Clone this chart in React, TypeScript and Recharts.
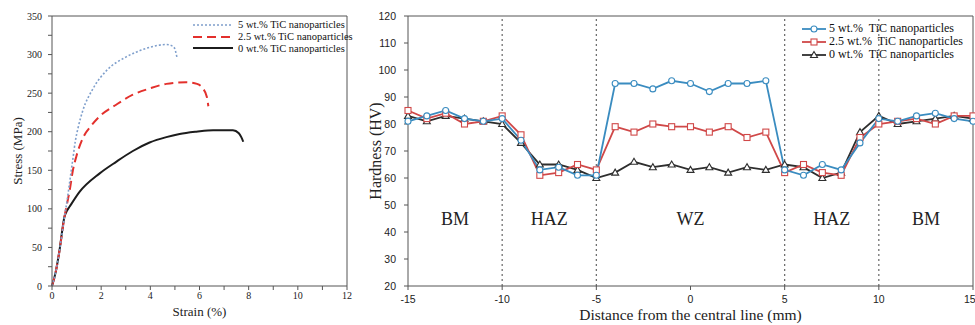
import React from "react";
import {
  LineChart, Line, XAxis, YAxis, Legend, ReferenceLine, ReferenceArea, Label
} from "recharts";

const serif = '"Liberation Serif", "Times New Roman", serif';
const narrow = '"Liberation Sans Narrow", "Liberation Sans", Arial, sans-serif';

// ---- tensile curves (left) ----
const strain5 = [0, 0.15, 0.3, 0.51, 0.62, 0.72, 0.85, 0.95, 1.06, 1.26, 1.67, 2.21, 3.02, 3.83, 4.65, 4.95, 5.08];
const stress5 = [0, 18, 45, 90, 112, 135, 165, 188, 205, 228, 256, 279, 297, 308, 313, 310, 297];

const strain25 = [0, 0.15, 0.3, 0.51, 0.62, 0.72, 0.85, 0.99, 1.26, 1.6, 1.94, 2.61, 3.29, 3.97, 4.65, 5.46, 5.9, 6.14, 6.3, 6.36];
const stress25 = [0, 18, 45, 90, 108, 124, 150, 168, 192, 208, 220, 235, 248, 256, 262, 264, 262, 256, 245, 233];

const strain0 = [0, 0.15, 0.3, 0.51, 0.6, 0.72, 1.12, 1.94, 2.61, 3.29, 3.97, 4.65, 5.19, 5.87, 6.55, 7.36, 7.6, 7.7, 7.78];
const stress0 = [0, 18, 45, 90, 97, 103, 122, 146, 161, 175, 186, 193, 197, 200, 202, 202, 198, 193, 187];

const strainTicks = [0, 1, 2, 3, 4, 5, 6, 7, 8, 9, 10, 11, 12];
const stressTicks = [0, 25, 50, 75, 100, 125, 150, 175, 200, 225, 250, 275, 300, 325, 350];

// ---- hardness profile (right) ----
const distance = [-15, -14, -13, -12, -11, -10, -9, -8, -7, -6, -5, -4, -3, -2, -1, 0, 1, 2, 3, 4, 5, 6, 7, 8, 9, 10, 11, 12, 13, 14, 15];
const hv5 = [81, 83, 85, 82, 81, 82, 74, 63, 64, 61, 61, 95, 95, 93, 96, 95, 92, 95, 95, 96, 63, 61, 65, 63, 73, 82, 81, 83, 84, 82, 81];
const hv25 = [85, 82, 84, 80, 81, 83, 76, 61, 62, 65, 63, 79, 77, 80, 79, 79, 77, 79, 75, 77, 62, 65, 62, 61, 75, 80, 81, 82, 80, 83, 83];
const hv0 = [83, 81, 83, 82, 81, 80, 73, 65, 65, 63, 60, 62, 66, 64, 65, 63, 64, 62, 64, 63, 65, 64, 60, 62, 77, 83, 80, 81, 82, 83, 82];

const distanceTicks = [-15, -10, -5, 0, 5, 10, 15];
const hardnessTicks = [20, 30, 40, 50, 60, 70, 80, 90, 100, 110, 120];
const zoneBorders = [-10, -5, 5, 10];
const zoneNames = ["BM", "HAZ", "WZ", "HAZ", "BM"];
const zoneFrom = [-15, -10, -5, 5, 10];
const zoneTo = [-10, -5, 5, 10, 15];

const seriesNames = ["5 wt.% TiC nanoparticles", "2.5 wt.% TiC nanoparticles", "0 wt.% TiC nanoparticles"];
const hardNames = ["5 wt.%  TiC nanoparticles", "2.5 wt.%  TiC nanoparticles", "0 wt.%  TiC nanoparticles"];

const toCurve = (xs: number[], ys: number[]) => xs.map((s, i) => ({ strain: s, stress: ys[i] }));
const curve5 = toCurve(strain5, stress5);
const curve25 = toCurve(strain25, stress25);
const curve0 = toCurve(strain0, stress0);

const hardness = distance.map((d, i) => ({ d, hv5: hv5[i], hv25: hv25[i], hv0: hv0[i] }));

const tensileStyle = [
  { color: "#7f9fcc", dash: "2 2", width: 1.6 },
  { color: "#e3302c", dash: "9 5", width: 2 },
  { color: "#1c1c1c", dash: undefined, width: 2 },
];
const hardColors = ["#3a8cc0", "#d04848", "#2e2e2e"];

const Square = (p: any) => {
  if (p.cx == null || p.cy == null) return null;
  return <rect x={p.cx - 3} y={p.cy - 3} width={6} height={6} fill="#fff" stroke={p.stroke} strokeWidth={1.1} />;
};
const Tri = (p: any) => {
  if (p.cx == null || p.cy == null) return null;
  const { cx, cy } = p;
  return (
    <polygon points={`${cx},${cy - 3.5} ${cx - 3.5},${cy + 2.5} ${cx + 3.5},${cy + 2.5}`}
      fill="#fff" stroke={p.stroke} strokeWidth={1.1} />
  );
};

const TensileLegend = () => (
  <div style={{ fontFamily: serif, fontSize: 10.5, color: "#111" }}>
    {seriesNames.map((n, i) => (
      <div key={n} style={{ display: "flex", alignItems: "center", height: 11.7 }}>
        <svg width={40} height={6}>
          <line x1={0} y1={3} x2={40} y2={3} stroke={tensileStyle[i].color}
            strokeWidth={tensileStyle[i].width} strokeDasharray={tensileStyle[i].dash} />
        </svg>
        <span style={{ marginLeft: 5, whiteSpace: "nowrap" }}>{n}</span>
      </div>
    ))}
  </div>
);

const HardLegend = () => (
  <div style={{ fontFamily: serif, fontSize: 12, color: "#111" }}>
    {hardNames.map((n, i) => (
      <div key={n} style={{ display: "flex", alignItems: "center", height: 13 }}>
        <svg width={24} height={10}>
          <line x1={0} y1={5} x2={24} y2={5} stroke={hardColors[i]} strokeWidth={1.8} />
          {i === 0 && <circle cx={12} cy={5} r={3} fill="#fff" stroke={hardColors[i]} strokeWidth={1.1} />}
          {i === 1 && <rect x={9} y={2} width={6} height={6} fill="#fff" stroke={hardColors[i]} strokeWidth={1.1} />}
          {i === 2 && <polygon points="12,1.5 8.5,7.5 15.5,7.5" fill="#fff" stroke={hardColors[i]} strokeWidth={1.1} />}
        </svg>
        <span style={{ marginLeft: 3, whiteSpace: "pre" }}>{n}</span>
      </div>
    ))}
  </div>
);

const axisStroke = "#555";

export default function App() {
  return (
    <div style={{ position: "absolute", left: 0, top: 0, width: 975, height: 325, background: "#fff" }}>
      <div style={{ position: "absolute", left: 0, top: 0 }}>
        <LineChart width={360} height={325} margin={{ top: 16, right: 13, bottom: 0, left: 0 }}>
          <XAxis dataKey="strain" type="number" domain={[0, 12]} ticks={strainTicks}
            tickFormatter={(v: number) => (v % 2 === 0 ? String(v) : "")}
            allowDuplicatedCategory={false} height={39} tickSize={4} tickMargin={2}
            stroke={axisStroke} tick={{ fontSize: 10, fill: "#222", fontFamily: serif }}>
            <Label value="Strain (%)" position="insideBottom" offset={9}
              style={{ fontSize: 13, fill: "#222", fontFamily: serif }} />
          </XAxis>
          <YAxis type="number" domain={[0, 350]} ticks={stressTicks}
            tickFormatter={(v: number) => (v % 50 === 0 ? String(v) : "")}
            width={52} tickSize={4} tickMargin={6} stroke={axisStroke}
            tick={{ fontSize: 10, fill: "#222", fontFamily: serif }}>
            <Label value="Stress (MPa)" angle={-90} position="insideLeft" offset={17}
              style={{ textAnchor: "middle", fontSize: 13, fill: "#222", fontFamily: serif }} />
          </YAxis>
          <ReferenceLine y={350} stroke={axisStroke} />
          <ReferenceLine x={12} stroke={axisStroke} />
          <Line data={curve0} dataKey="stress" name={seriesNames[2]} type="monotone" stroke={tensileStyle[2].color}
            strokeWidth={tensileStyle[2].width} dot={false} isAnimationActive={false} />
          <Line data={curve25} dataKey="stress" name={seriesNames[1]} type="monotone" stroke={tensileStyle[1].color}
            strokeWidth={tensileStyle[1].width} strokeDasharray={tensileStyle[1].dash} dot={false} isAnimationActive={false} />
          <Line data={curve5} dataKey="stress" name={seriesNames[0]} type="monotone" stroke={tensileStyle[0].color}
            strokeWidth={tensileStyle[0].width} strokeDasharray={tensileStyle[0].dash} dot={false} isAnimationActive={false} />
          <Legend layout="vertical" align="center" verticalAlign="middle" content={<TensileLegend />}
            wrapperStyle={{ position: "absolute", left: 193, top: 19, width: "auto" }} />
        </LineChart>
      </div>

      <div style={{ position: "absolute", left: 340, top: 0 }}>
        <LineChart width={635} height={325} data={hardness} margin={{ top: 16, right: 2, bottom: 0, left: 0 }}>
          <XAxis dataKey="d" type="number" domain={[-15, 15]} ticks={distanceTicks}
            height={39} tickSize={4} tickMargin={6} stroke={axisStroke}
            tick={{ fontSize: 10.5, fill: "#222", fontFamily: narrow }}>
            <Label value="Distance from the central line (mm)" position="insideBottom" offset={5}
              style={{ fontSize: 15.5, fill: "#222", fontFamily: serif }} />
          </XAxis>
          <YAxis type="number" domain={[20, 120]} ticks={hardnessTicks} width={68}
            tickSize={4} tickMargin={8} stroke={axisStroke}
            tick={{ fontSize: 10.5, fill: "#222", fontFamily: narrow }}>
            <Label value="Hardness (HV)" angle={-90} position="insideLeft" offset={35}
              style={{ textAnchor: "middle", fontSize: 16, fill: "#222", fontFamily: serif }} />
          </YAxis>
          <ReferenceLine y={120} stroke={axisStroke} />
          <ReferenceLine x={15} stroke={axisStroke} />
          {zoneBorders.map((b) => (
            <ReferenceLine key={b} x={b} stroke="#666" strokeDasharray="2 3" strokeWidth={1.2} />
          ))}
          {zoneNames.map((z, i) => (
            <ReferenceArea key={i} x1={zoneFrom[i]} x2={zoneTo[i]} y1={40} y2={50}
              fillOpacity={0} strokeOpacity={0}
              label={{ value: z, position: "center", fontSize: 18, fill: "#222", fontFamily: serif }} />
          ))}
          <Line dataKey="hv0" name={hardNames[2]} stroke={hardColors[2]} strokeWidth={1.8}
            dot={(p: any) => <Tri {...p} key={`t${p.index}`} />} isAnimationActive={false} />
          <Line dataKey="hv25" name={hardNames[1]} stroke={hardColors[1]} strokeWidth={1.8}
            dot={(p: any) => <Square {...p} key={`s${p.index}`} />} isAnimationActive={false} />
          <Line dataKey="hv5" name={hardNames[0]} stroke={hardColors[0]} strokeWidth={1.8}
            dot={{ r: 3, fill: "#fff", strokeWidth: 1.1 }} isAnimationActive={false} />
          <Legend layout="vertical" align="center" verticalAlign="middle" content={<HardLegend />}
            wrapperStyle={{ position: "absolute", left: 462, top: 22, width: "auto" }} />
        </LineChart>
      </div>
    </div>
  );
}
